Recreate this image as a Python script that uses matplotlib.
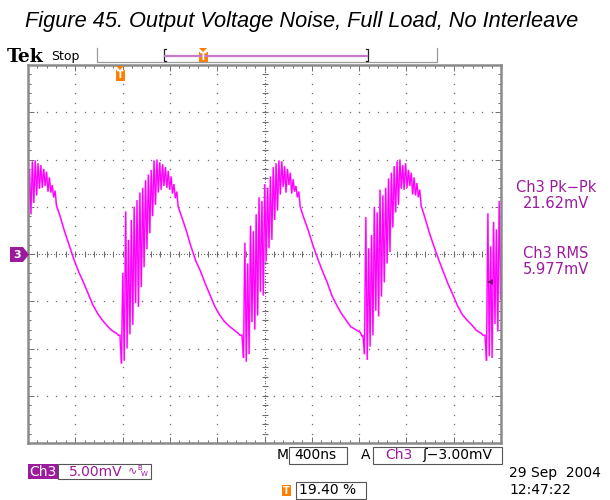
import matplotlib
matplotlib.use("Agg")
import matplotlib.pyplot as plt
from matplotlib.patches import Polygon, Rectangle
import numpy as np

W, H = 610, 500

# Ch3 trace: 5 mV/div, 400 ns/div, 10 x 8 divisions
t_span = 4000.0
v_half = 20.0
edge_t = [-251, 778, 1810, 2833, 3865]   # ns, switching edge of each cycle

# ringing after each edge, one sample every ring_step ns
ring_step = 12
ring_mv = [
    [-8.6, -11.4, -1.6, -11.0, 4.0, -9.6, 1.8, -8.2, 3.2, -7.2, 5.2, -5.0,
     5.9, -5.4, 6.2, -3.2, 7.2, -1.2, 7.6, 0.8, 8.6, 2.4, 9.0, 4.2, 9.8, 5.4,
     9.9, 6.2, 9.6, 6.9, 9.4, 7.0, 9.0, 7.2, 8.7, 6.6, 8.1, 6.5, 7.3, 6.0, 6.7, 5.1],
    [-8.6, -11.6, -2.0, -11.3, 4.5, -10.0, 1.5, -8.5, 3.6, -7.5, 5.0, -5.2,
     5.7, -5.6, 6.5, -3.5, 7.0, -1.4, 7.8, 0.5, 8.4, 2.2, 8.9, 4.0, 9.9, 5.2,
     10.0, 6.5, 9.7, 6.8, 9.5, 7.2, 9.2, 7.0, 8.8, 6.8, 8.2, 6.4, 7.4, 5.9, 6.6, 5.0],
    [-8.6, -11.0, 1.2, -11.4, -1.0, -10.6, 3.0, -7.2, 2.4, -8.0, 4.2, -6.5,
     6.0, -4.0, 5.6, -4.4, 7.4, -0.8, 7.0, 0.6, 8.2, 1.5, 9.2, 3.6, 9.6, 4.6,
     9.9, 6.3, 9.8, 7.1, 9.3, 6.5, 9.0, 7.3, 8.6, 6.4, 7.9, 6.6, 7.2, 6.0, 6.6, 5.0],
    [-8.6, -10.6, 3.9, -11.2, 0.6, -9.8, 2.0, -8.6, 5.0, -6.0, 4.4, -6.6,
     6.8, -4.5, 6.2, -3.0, 7.0, -1.0, 8.0, 0.2, 8.6, 2.8, 9.3, 4.4, 9.8, 5.2,
     10.0, 6.9, 9.4, 6.8, 9.6, 7.0, 8.9, 7.2, 8.6, 6.3, 8.1, 6.2, 7.5, 6.0, 6.8, 5.1],
    [-8.6, -11.3, 4.3, -10.8, 0.8, -11.0, 3.4, -7.4, 2.6, -8.2, 5.6, -4.8,
     4.6, -6.0, 6.4, -3.6, 7.5, -1.0, 7.6, 0.6, 8.8, 2.5, 9.1, 4.0, 9.8, 5.0,
     9.9, 6.5, 9.5, 7.0, 9.3, 6.9, 8.9, 7.1, 8.6, 6.7, 8.0, 6.3, 7.3, 6.1, 6.8, 5.0],
]

# smooth discharge between edges
fall_dt = [520, 560, 600, 640, 680, 720, 760, 800, 840, 880, 920, 960, 1000, 1015]
fall_mv = [
    [4.1, 2.4, 0.9, -0.6, -1.9, -3.0, -4.2, -5.4, -6.3, -7.0, -7.6, -8.1, -8.4, -8.6],
    [4.0, 2.5, 0.8, -0.7, -1.8, -3.1, -4.3, -5.5, -6.4, -7.1, -7.6, -8.0, -8.4, -8.6],
    [3.9, 2.5, 0.9, -0.5, -1.8, -3.0, -4.4, -5.4, -6.3, -7.0, -7.7, -8.0, -8.3, -8.7],
    [4.0, 2.3, 0.8, -0.6, -1.9, -3.2, -4.3, -5.5, -6.4, -7.0, -7.5, -8.1, -8.4, -8.6],
    [4.0, 2.5, 0.8, -0.7, -1.8, -3.1, -4.3, -5.5, -6.4, -7.1, -7.6, -8.0, -8.4, -8.6],
]

trig_level = -3.0     # mV
trig_t = 3907         # ns, where the level arrow sits

pk_pk = "21.62mV"
rms = "5.977mV"

purple = "#9c1a9c"
magenta = "#ff00ff"
orange = "#ff7f00"
grid_c = "#6e6e6e"


def fx(x):
    return x / W


def fy(y):
    return 1 - y / H


fig = plt.figure(figsize=(W / 100, H / 100), dpi=100)
ax = fig.add_axes([fx(28), fy(443), 473 / W, 378 / H])
ax.set_xlim(0, t_span)
ax.set_ylim(-v_half, v_half)

# graticule
for k in range(1, 10):
    xv = 400 * k
    if k == 5:
        continue
    ys = np.arange(-19, 20, 1.0)
    ax.plot(np.full(len(ys), xv), ys, ls="none", marker="s", ms=0.9, mew=0, color=grid_c)
for j in [-15, -10, -5, 5, 10, 15]:
    xs = np.arange(80, 4000, 80.0)
    ax.plot(xs, np.full(len(xs), j), ls="none", marker="s", ms=0.9, mew=0, color=grid_c)

# center cross with fine ticks
xs = np.arange(0, 4000, 24.0)
ax.plot(xs, np.zeros(len(xs)), ls="none", marker="s", ms=0.8, mew=0, color=grid_c)
ys = np.arange(-20, 20, 0.3)
ax.plot(np.full(len(ys), 2000), ys, ls="none", marker="s", ms=0.8, mew=0, color=grid_c)
xs = np.arange(80, 4000, 80.0)
ax.plot(xs, np.zeros(len(xs)), ls="none", marker="|", ms=4.5, mew=0.8, color=grid_c)
ys = np.arange(-19, 20, 1.0)
ax.plot(np.full(len(ys), 2000), ys, ls="none", marker="_", ms=4.5, mew=0.8, color=grid_c)

for s in ax.spines.values():
    s.set_color("#8a8a8a")
    s.set_linewidth(1.8)
ax.set_xticks(np.arange(0, 4001, 400))
ax.set_xticks(np.arange(0, 4001, 80), minor=True)
ax.set_yticks(np.arange(-20, 21, 5))
ax.set_yticks(np.arange(-20, 21, 1), minor=True)
ax.tick_params(which="both", direction="in", top=True, right=True,
               labelbottom=False, labelleft=False, color=grid_c, width=0.7)
ax.tick_params(which="major", length=4)
ax.tick_params(which="minor", length=2)

# trace
t_all, v_all = [], []
for e, ring, fall in zip(edge_t, ring_mv, fall_mv):
    rt = e + ring_step * np.arange(len(ring))
    t_all.extend(rt)
    v_all.extend(ring)
    t_all.extend(e + np.array(fall_dt))
    v_all.extend(fall)
ax.plot(t_all, v_all, color="#ffa8ff", lw=1.4, solid_joinstyle="miter")
ax.plot(t_all, v_all, color=magenta, lw=0.9, solid_joinstyle="miter")

# trigger level arrow
ax.plot([trig_t], [trig_level], marker="<", ms=5, color="#7a0a7a", mew=0)

# channel 3 ground marker
fig.add_artist(Polygon([[fx(10), fy(247)], [fx(23), fy(247)], [fx(29), fy(254.5)],
                        [fx(23), fy(262)], [fx(10), fy(262)]],
                       closed=True, transform=fig.transFigure, fc=purple, ec="none"))
fig.text(fx(17), fy(255), "3", color="white", fontsize=8, fontweight="bold",
         ha="center", va="center")

# title
fig.text(fx(25), fy(21), "Figure 45. Output Voltage Noise, Full Load, No Interleave",
         family="Liberation Sans", style="italic", fontsize=15.7, va="center")

# header
fig.text(fx(7), fy(57), "Tek", family="DejaVu Serif", fontweight="bold",
         fontsize=13.5, va="center")
fig.text(fx(51), fy(56.5), "Stop", fontsize=9, va="center")
fig.add_artist(plt.Line2D([fx(97), fx(97), fx(437), fx(437)],
                          [fy(48), fy(62), fy(62), fy(48)],
                          transform=fig.transFigure, color="#9a9a9a", lw=0.9))
fig.add_artist(plt.Line2D([fx(166), fx(164), fx(164), fx(166)],
                          [fy(49), fy(49), fy(61), fy(61)],
                          transform=fig.transFigure, color="#222", lw=0.9))
fig.add_artist(plt.Line2D([fx(366), fx(368), fx(368), fx(366)],
                          [fy(49), fy(49), fy(61), fy(61)],
                          transform=fig.transFigure, color="#222", lw=0.9))
fig.add_artist(plt.Line2D([fx(165), fx(367)], [fy(55.5), fy(55.5)],
                          transform=fig.transFigure, color="#c878c8", lw=1.6))


def t_marker(x, y_top):
    # orange trigger flag: small down arrow over a boxed T
    fig.add_artist(Polygon([[fx(x - 4), fy(y_top)], [fx(x + 4), fy(y_top)], [fx(x), fy(y_top + 4)]],
                           closed=True, transform=fig.transFigure, fc=orange, ec="none"))
    fig.add_artist(Rectangle((fx(x - 4.5), fy(y_top + 15)), 9 / W, 11 / H,
                             transform=fig.transFigure, fc=orange, ec="none"))
    fig.text(fx(x), fy(y_top + 9.5), "T", color="white", fontsize=7, fontweight="bold",
             ha="center", va="center")


t_marker(203, 48)
t_marker(120, 66)

# readouts on the right
for yy, s in [(187, "Ch3 Pk\u2212Pk"), (203, pk_pk), (254, "Ch3 RMS"), (270, rms)]:
    fig.text(fx(556), fy(yy), s, color=purple, fontsize=10.5, ha="center", va="center")


def box(x0, y0, x1, y1):
    fig.add_artist(Rectangle((fx(x0), fy(y1)), (x1 - x0) / W, (y1 - y0) / H,
                             transform=fig.transFigure, fill=False, ec="#555", lw=0.8))


# bottom readouts
fig.text(fx(277), fy(455), "M", fontsize=10, va="center")
box(289, 447, 347, 464)
fig.text(fx(294), fy(455), "400ns", fontsize=10, va="center")
fig.text(fx(361), fy(455), "A", fontsize=10, va="center")
box(373, 447, 502, 464)
fig.text(fx(385), fy(455), "Ch3", color=purple, fontsize=10, va="center")
fig.text(fx(422), fy(455), "\u0283\u22123.00mV", fontsize=10, va="center")

fig.add_artist(Rectangle((fx(28), fy(479)), 30 / W, 15 / H,
                         transform=fig.transFigure, fc=purple, ec="none"))
fig.text(fx(43), fy(471.5), "Ch3", color="white", fontsize=10, ha="center", va="center")
box(58, 464, 151, 479)
fig.text(fx(69), fy(471.5), "5.00mV", color=purple, fontsize=10, va="center")
fig.text(fx(128), fy(470.5), "\u223f", color=purple, fontsize=8, va="center")
fig.text(fx(137), fy(468), "B", color=purple, fontsize=5, va="center")
fig.text(fx(141), fy(474), "W", color=purple, fontsize=5, va="center")

fig.add_artist(Rectangle((fx(281.5), fy(496)), 9 / W, 11 / H,
                         transform=fig.transFigure, fc=orange, ec="none"))
fig.text(fx(286), fy(490.5), "T", color="white", fontsize=7, fontweight="bold",
         ha="center", va="center")
box(296, 482, 366, 499)
fig.text(fx(299), fy(490.5), "19.40 %", fontsize=10, va="center")

fig.text(fx(509), fy(473), "29 Sep  2004", fontsize=10, va="center")
fig.text(fx(509), fy(490), "12:47:22", fontsize=10, va="center")

fig.savefig("out.png", dpi=100, facecolor="white")
